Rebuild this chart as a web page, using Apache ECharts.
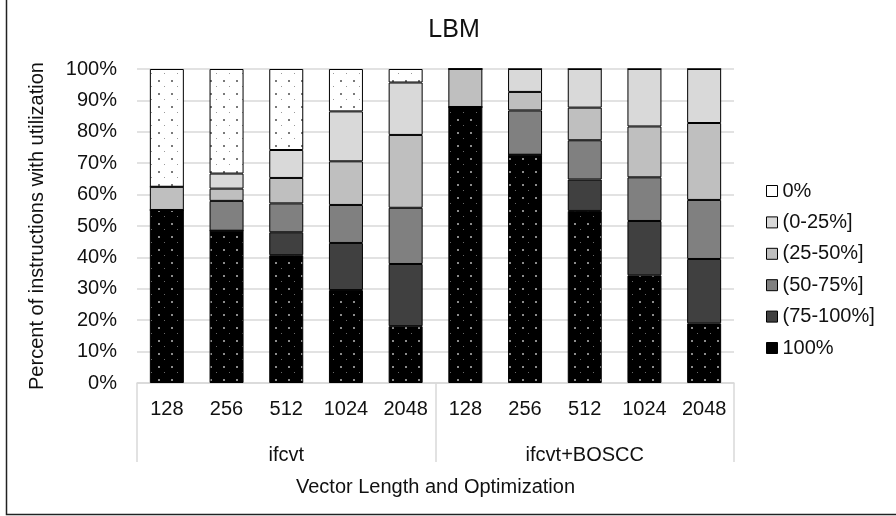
<!DOCTYPE html>
<html>
<head>
<meta charset="utf-8">
<script src="https://cdn.jsdelivr.net/npm/echarts@6/dist/echarts.min.js"></script>
<style>
html,body{margin:0;padding:0;background:#fff;}
#chart{width:896px;height:516px;}
</style>
</head>
<body>
<div id="chart"></div>
<script>
// ---- data ----
var categories = ['128','256','512','1024','2048','128','256','512','1024','2048'];
var groups = ['ifcvt','ifcvt+BOSCC'];
var seriesNames = ['100%','(75-100%]','(50-75%]','(25-50%]','(0-25%]','0%'];
var p100    = [55.1, 48.5, 40.7, 29.6, 18.1, 87.9, 72.7, 54.8, 34.3, 19.0];
var p75_100 = [0, 0, 7.3, 15.0, 19.8, 0, 0, 10.0, 17.3, 20.5];
var p50_75  = [0, 9.5, 9.2, 12.1, 17.9, 0, 14.1, 12.5, 13.9, 18.8];
var p25_50  = [7.4, 3.9, 8.1, 13.9, 23.2, 12.1, 5.9, 10.4, 16.2, 24.5];
var p0_25   = [0, 4.8, 8.9, 15.9, 16.7, 0, 7.3, 12.3, 18.3, 17.2];
var p0      = [37.5, 33.3, 25.8, 13.5, 4.3, 0, 0, 0, 0, 0];
var seriesValues = [p100, p75_100, p50_75, p25_50, p0_25, p0];

// ---- styling ----
function makePattern(bg, big, small) {
  var c = document.createElement('canvas');
  c.width = 13; c.height = 13;
  var ctx = c.getContext('2d');
  ctx.fillStyle = bg; ctx.fillRect(0, 0, 13, 13);
  ctx.fillStyle = big; ctx.fillRect(2, 2, 2, 2);
  ctx.fillStyle = small; ctx.fillRect(8, 8, 1, 1);
  return {image: c, repeat: 'repeat'};
}
var fills = [
  makePattern('#000000', '#8c8c8c', '#6a6a6a'),
  '#404040', '#808080', '#bfbfbf', '#d9d9d9',
  makePattern('#ffffff', '#7a7a7a', '#9a9a9a')
];
var legendColors = ['#000000','#404040','#808080','#bfbfbf','#d9d9d9','#ffffff'];
var FONT = 'Liberation Sans, Arial, sans-serif';
var TXT = '#111';

var series = seriesNames.map(function (n, i) {
  return {
    name: n, type: 'bar', stack: 'total', barWidth: 34,
    data: seriesValues[i],
    itemStyle: {color: fills[i], borderColor: '#000', borderWidth: 1},
    emphasis: {disabled: true}
  };
});

var legendData = seriesNames.slice().reverse().map(function (n) {
  var i = seriesNames.indexOf(n);
  return {name: n, itemStyle: {color: legendColors[i], borderColor: '#000', borderWidth: 1}};
});

var chart = echarts.init(document.getElementById('chart'));
chart.setOption({
  animation: false,
  backgroundColor: '#fff',
  textStyle: {fontFamily: FONT},
  title: {
    text: 'LBM', left: 454, top: 18, textAlign: 'center', padding: 0,
    textStyle: {fontSize: 25, fontWeight: 'normal', color: TXT, fontFamily: FONT}
  },
  legend: {
    orient: 'vertical', left: 766, top: 181, itemWidth: 11, itemHeight: 11, itemGap: 11.4,
    padding: 0, selectedMode: false, icon: 'rect',
    textStyle: {fontSize: 20, lineHeight: 20, color: TXT, fontFamily: FONT},
    data: legendData
  },
  grid: {left: 137, right: 162, top: 69, bottom: 133, containLabel: false},
  xAxis: [
    {
      type: 'category', data: categories, position: 'bottom',
      axisLine: {show: true, lineStyle: {color: '#d9d9d9', width: 1.5}},
      axisTick: {show: false},
      axisLabel: {fontSize: 20, lineHeight: 20, margin: 16, color: TXT, fontFamily: FONT, interval: 0}
    },
    {
      type: 'category', data: groups, position: 'bottom',
      axisLine: {show: false},
      axisTick: {show: true, length: 79, lineStyle: {color: '#d9d9d9', width: 1.5}},
      axisLabel: {fontSize: 20, lineHeight: 20, margin: 62, color: TXT, fontFamily: FONT, interval: 0},
      name: 'Vector Length and Optimization', nameLocation: 'middle', nameGap: 94,
      nameTextStyle: {fontSize: 20, color: TXT, fontFamily: FONT}
    }
  ],
  yAxis: {
    type: 'value', min: 0, max: 100, interval: 10,
    axisLine: {show: false}, axisTick: {show: false},
    splitLine: {lineStyle: {color: '#d9d9d9', width: 1.5}},
    axisLabel: {formatter: '{value}%', fontSize: 20, margin: 20, color: TXT, fontFamily: FONT},
    name: 'Percent of instructions with utilization', nameLocation: 'middle', nameGap: 90,
    nameTextStyle: {fontSize: 20, color: TXT, fontFamily: FONT}
  },
  graphic: [
    {type: 'polyline', shape: {points: [[6.5, -5], [6.5, 514.5], [900, 514.5]]},
      style: {stroke: '#222', lineWidth: 1.5, fill: null}, silent: true}
  ],
  series: series
});
</script>
</body>
</html>
